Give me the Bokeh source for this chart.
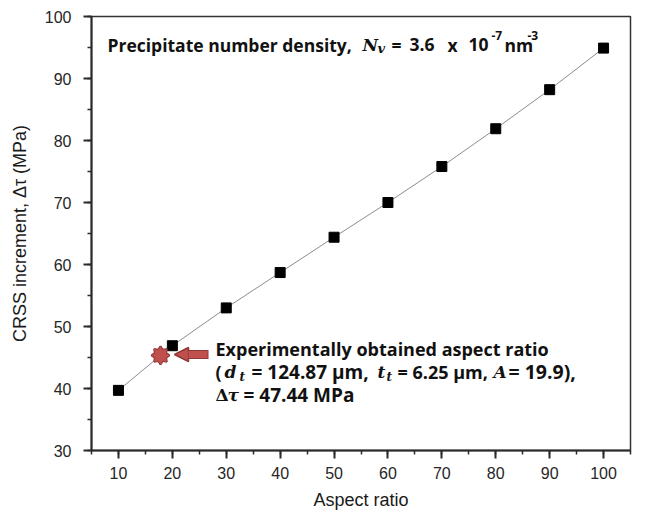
from math import pi

from bokeh.embed import file_html
from bokeh.models import (Arrow, ColumnDataSource, Label, NormalHead, Range1d,
                          SingleIntervalTicker)
from bokeh.plotting import figure
from bokeh.resources import INLINE
from bokeh.transform import dodge

# Calculated CRSS increment against precipitate aspect ratio
aspect_ratio = [10, 20, 30, 40, 50, 60, 70, 80, 90, 100]
crss_increment = [39.7, 46.9, 53.0, 58.7, 64.4, 70.0, 75.8, 81.9, 88.2, 94.9]

# Experimentally obtained aspect ratio and its CRSS increment
exp_aspect = [19.9]
exp_crss = [47.44]

X_MIN, X_MAX = 5, 105
Y_MIN, Y_MAX = 30, 100

LEFT, RIGHT, TOP, BOTTOM = 91, 17, 16, 64
W, H = 647, 514
FRAME_W = W - LEFT - RIGHT
FRAME_H = H - TOP - BOTTOM


def at(px, py):
    """Convert a canvas pixel position into data coordinates."""
    x = X_MIN + (px - LEFT) * (X_MAX - X_MIN) / FRAME_W
    y = Y_MAX - (py - TOP) * (Y_MAX - Y_MIN) / FRAME_H
    return x, y


p = figure(width=W, height=H,
           x_range=Range1d(X_MIN, X_MAX), y_range=Range1d(Y_MIN, Y_MAX),
           output_backend="svg", toolbar_location=None,
           min_border_left=LEFT, min_border_right=RIGHT,
           min_border_top=TOP, min_border_bottom=BOTTOM)

p.background_fill_color = "white"
p.border_fill_color = "white"
p.grid.visible = False
p.outline_line_color = "#333333"
p.outline_line_width = 1.5

AXIS_COLOR = "#2b2b2b"
p.xaxis.ticker = SingleIntervalTicker(interval=10, num_minor_ticks=2)
p.yaxis.ticker = SingleIntervalTicker(interval=10, num_minor_ticks=2)
for ax in (p.xaxis, p.yaxis):
    ax.axis_line_color = AXIS_COLOR
    ax.axis_line_width = 2
    ax.major_tick_line_color = AXIS_COLOR
    ax.major_tick_line_width = 2
    ax.minor_tick_line_color = AXIS_COLOR
    ax.minor_tick_line_width = 1.5
    ax.major_tick_in = 0
    ax.minor_tick_in = 0
    ax.major_tick_out = 8
    ax.minor_tick_out = 4
    ax.major_label_text_font = "Liberation Sans"
    ax.major_label_text_font_size = "16px"
    ax.major_label_text_color = "#262626"
    ax.axis_label_text_font = "Liberation Sans"
    ax.axis_label_text_font_size = "18px"
    ax.axis_label_text_font_style = "normal"
    ax.axis_label_text_color = "#1a1a1a"

p.xaxis.axis_label = "Aspect ratio"
p.yaxis.axis_label = "CRSS increment, Δτ (MPa)"
p.xaxis.major_label_standoff = 8
p.yaxis.major_label_standoff = 12
p.xaxis.axis_label_standoff = 8
p.yaxis.axis_label_standoff = 12

# Connecting line and calculated points
p.line(aspect_ratio, crss_increment, line_color="#8c8c8c", line_width=1)
p.scatter(aspect_ratio, crss_increment, marker="square", size=10,
          fill_color="black", line_color="black")

# Eight-point star for the experimental value, set just beside the curve:
# four rotated diamonds, outlines first and fills over them
RED = "#c0504d"
DARK_RED = "#8e3a38"
exp_src = ColumnDataSource(dict(x=exp_aspect, y=exp_crss))
for fill_only in (False, True):
    for ang in (0, pi / 4, pi / 2, 3 * pi / 4):
        p.scatter(x=dodge("x", -2.1), y=dodge("y", -2.1), source=exp_src,
                  marker="diamond", size=18, angle=ang,
                  fill_color=RED,
                  line_color=None if fill_only else DARK_RED,
                  line_width=2)

# Block arrow pointing at the experimental value
tail_x, arrow_y = at(208, 354)
base_x, _ = at(186, 354)
tip_x, _ = at(174, 354)
p.add_layout(Arrow(x_start=tail_x, y_start=arrow_y, x_end=base_x, y_end=arrow_y,
                   line_color=DARK_RED, line_width=9, end=None))
inner_tail, _ = at(207, 354)
p.add_layout(Arrow(x_start=inner_tail, y_start=arrow_y, x_end=tip_x, y_end=arrow_y,
                   line_color=RED, line_width=7,
                   end=NormalHead(size=14, fill_color=RED, line_color=DARK_RED,
                                  line_width=1.5)))

SANS = "Open Sans"
MATH = "DejaVu Serif"


def put(text, px, py, size, math=False, upright=False):
    x, y = at(px, py)
    p.add_layout(Label(x=x, y=y, text=text,
                       text_font=MATH if math else SANS,
                       text_font_style=("bold" if upright else "bold italic") if math else "bold",
                       text_font_size=f"{size}px", text_color="#111111",
                       text_align="left", text_baseline="alphabetic"))


# Heading: precipitate number density
put("Precipitate number density,", 107, 44, 17.5)
put("N", 362, 44, 17, math=True)
put("v", 377, 48, 13, math=True)
put("=", 391, 44, 17.5)
put("3.6", 409, 44, 17.5)
put("x", 447, 44, 17.5)
put("10", 468, 44, 17.5)
put("-7", 491, 35, 12)
put("nm", 504, 44, 17.5)
put("-3", 527, 35, 12)

# Note on the experimental value
put("Experimentally obtained aspect ratio", 215, 348, 18)
put("(", 215, 371, 18)
put("d", 224, 371, 17, math=True)
put("t", 239, 376, 12, math=True)
put("= 124.87 μm,", 251, 371, 19)
put("t", 377, 371, 17, math=True)
put("t", 386, 376, 12, math=True)
put("= 6.25 μm,", 397, 371, 18)
put("A", 493, 371, 17, math=True)
put("= 19.9),", 508, 371, 19.5)
put("Δ", 215, 394, 17, math=True, upright=True)
put("τ", 227, 394, 17, math=True)
put("= 47.44 MPa", 243, 394, 19)

open("out.html", "w").write(file_html(p, INLINE))
